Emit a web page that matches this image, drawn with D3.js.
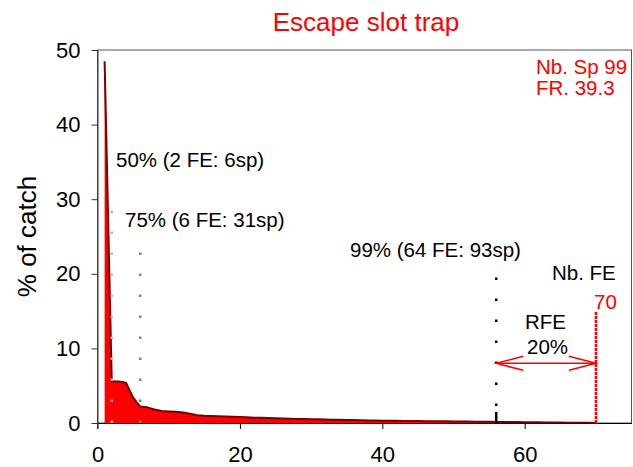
<!DOCTYPE html>
<html>
<head>
<meta charset="utf-8">
<script src="https://cdn.jsdelivr.net/npm/d3@7"></script>
<style>
  html, body { margin: 0; padding: 0; background: #fff; }
  svg text { font-family: Arial, "Liberation Sans", sans-serif; }
</style>
</head>
<body>
<svg id="chart" width="633" height="467"></svg>
<script>
// % of catch for each functional entity, ranked from most to least caught
const catchPct = [
  48.5, 5.6, 5.55, 5.4, 3.4, 2.2, 2.1, 1.8, 1.6, 1.55,
  1.5, 1.4, 1.25, 1.05, 0.98, 0.95, 0.92, 0.88, 0.84, 0.8,
  0.76, 0.72, 0.69, 0.66, 0.63, 0.6, 0.57, 0.55, 0.53, 0.51,
  0.49, 0.47, 0.45, 0.43, 0.41, 0.39, 0.37, 0.35, 0.33, 0.31,
  0.3, 0.29, 0.28, 0.27, 0.26, 0.25, 0.24, 0.23, 0.22, 0.21,
  0.2, 0.19, 0.18, 0.17, 0.16, 0.15, 0.14, 0.13, 0.12, 0.11,
  0.1, 0.09, 0.08, 0.07, 0.06, 0.05, 0.04, 0.03, 0.02, 0.01
];

// cumulative-catch thresholds: rank of FE and height of the guide line
const thresholdText = ["50% (2 FE: 6sp)", "75% (6 FE: 31sp)", "99% (64 FE: 93sp)"];
const thresholdRank = [2, 6, 56];
const thresholdTop = [31, 24, 19.5];

const nbFE = 70;
const nbFETop = 15;
const rfeArrowY = 8;
const rfeText = ["RFE", "20%"];
const infoText = ["Nb. Sp 99", "FR. 39.3"];

const xTicks = [0, 20, 40, 60];
const yTicks = [0, 10, 20, 30, 40, 50];

const svg = d3.select("#chart");
const plotLeft = 97.5, plotRight = 631.5, plotTop = 50, plotBottom = 423;

const x = d3.scaleLinear().domain([0, 75]).range([plotLeft, plotRight]);
const y = d3.scaleLinear().domain([0, 50]).range([plotBottom, plotTop]);

// plot frame
svg.append("rect")
  .attr("x", plotLeft).attr("y", plotTop)
  .attr("width", plotRight - plotLeft).attr("height", plotBottom - plotTop)
  .attr("fill", "none").attr("stroke", "#555").attr("stroke-width", 1);

// ranked catch curve
const area = d3.area()
  .x((d, i) => x(i + 1))
  .y0(y(0))
  .y1(d => y(d));
const line = d3.line()
  .x((d, i) => x(i + 1))
  .y(d => y(d));

svg.append("path").datum(catchPct)
  .attr("d", area).attr("fill", "#ff0000");
svg.append("path").datum(catchPct)
  .attr("d", line).attr("fill", "none")
  .attr("stroke", "#7a0000").attr("stroke-width", 2)
  .attr("stroke-linejoin", "round");

// threshold guide lines (drawn bottom to top)
const guideColor = ["#b8b8b8", "#848484", "#000"];
const guideDash = [
  "2.5,18.5",
  "2.5,18.5",
  "11,6,2.5,18.5,2.5,18.5,2.5,18.5,2.5,18.5,2.5,18.5,2.5,18.5,2.5,40"
];
thresholdRank.forEach((r, i) => {
  svg.append("line")
    .attr("x1", x(r)).attr("x2", x(r))
    .attr("y1", y(0)).attr("y2", y(thresholdTop[i]))
    .attr("stroke", guideColor[i]).attr("stroke-width", 2.5)
    .attr("stroke-dasharray", guideDash[i]);
});

// total number of FE
svg.append("line")
  .attr("x1", x(nbFE)).attr("x2", x(nbFE))
  .attr("y1", y(0)).attr("y2", y(nbFETop))
  .attr("stroke", "#ff0000").attr("stroke-width", 2.5)
  .attr("stroke-dasharray", "3,1");

// RFE double arrow
const ax0 = x(thresholdRank[2]), ax1 = x(nbFE), ay = y(rfeArrowY);
const arrow = svg.append("g").attr("stroke", "#ff0000").attr("stroke-width", 1.5).attr("fill", "none");
arrow.append("line").attr("x1", ax0).attr("x2", ax1).attr("y1", ay).attr("y2", ay);
arrow.append("path").attr("d", `M${ax0 + 27},${ay - 7}L${ax0},${ay}L${ax0 + 27},${ay + 7}`);
arrow.append("path").attr("d", `M${ax1 - 27},${ay - 7}L${ax1},${ay}L${ax1 - 27},${ay + 7}`);

// axes
const xAxis = svg.append("g")
  .attr("transform", `translate(0,${plotBottom})`)
  .call(d3.axisBottom(x).tickValues(xTicks).tickSize(6).tickSizeOuter(0).tickPadding(17));
xAxis.select(".domain").attr("stroke", "#000");
xAxis.selectAll("text").attr("font-size", 22).attr("fill", "#000");

const yAxis = svg.append("g")
  .attr("transform", `translate(${plotLeft},0)`)
  .call(d3.axisLeft(y).tickValues(yTicks).tickSize(6).tickSizeOuter(0).tickPadding(11));
yAxis.select(".domain").attr("stroke", "#333");
yAxis.selectAll("line").attr("stroke", "#333");
yAxis.selectAll("text").attr("font-size", 22).attr("fill", "#000");
// extend the origin cross slightly
svg.append("line").attr("x1", plotLeft).attr("x2", plotLeft)
  .attr("y1", plotBottom).attr("y2", plotBottom + 6).attr("stroke", "#333");

// titles
svg.append("text")
  .attr("x", 366).attr("y", 31)
  .attr("text-anchor", "middle")
  .attr("font-size", 26).attr("fill", "#ff0000")
  .text("Escape slot trap");

svg.append("text")
  .attr("transform", `translate(36,${(plotTop + plotBottom) / 2}) rotate(-90)`)
  .attr("text-anchor", "middle")
  .attr("font-size", 26).attr("fill", "#000")
  .text("% of catch");

// annotations
const annot = svg.append("g").attr("font-size", 20.5);
const threshPos = [[116, 167], [125, 227], [350, 257]];
thresholdText.forEach((t, i) => {
  annot.append("text").attr("x", threshPos[i][0]).attr("y", threshPos[i][1])
    .attr("fill", "#000").text(t);
});
annot.append("text").attr("x", 552).attr("y", 280).attr("fill", "#000").text("Nb. FE");
annot.append("text").attr("x", 594).attr("y", 309).attr("fill", "#ff0000").text(nbFE);
annot.append("text").attr("x", 525).attr("y", 329).attr("fill", "#000").text(rfeText[0]);
annot.append("text").attr("x", 527).attr("y", 354).attr("fill", "#000").text(rfeText[1]);
annot.append("text").attr("x", 536).attr("y", 74).attr("fill", "#ff0000").text(infoText[0]);
annot.append("text").attr("x", 536).attr("y", 95).attr("fill", "#ff0000").text(infoText[1]);
</script>
</body>
</html>
